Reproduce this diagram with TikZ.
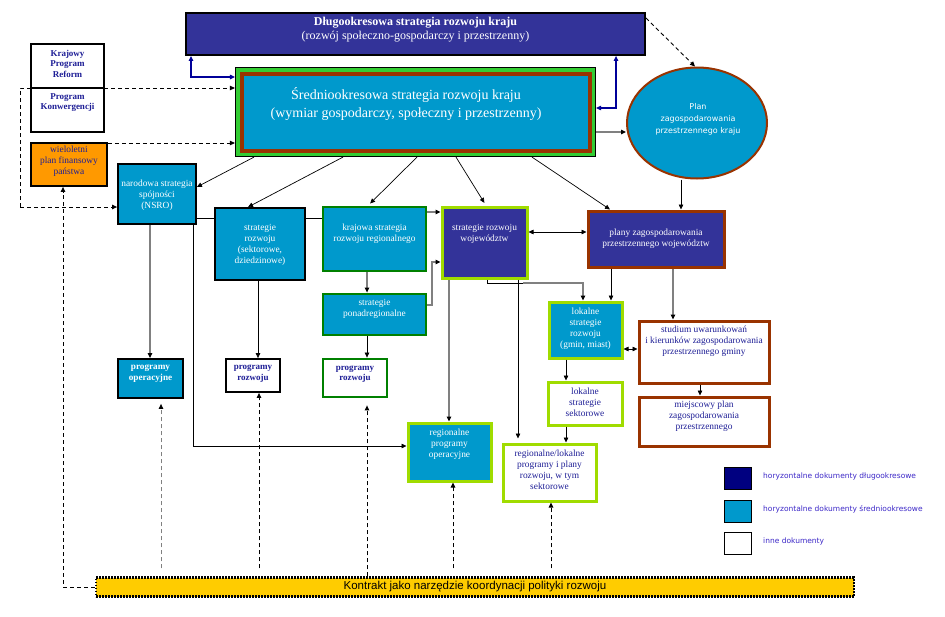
\documentclass[tikz,border=0pt]{standalone}
\usepackage{fontspec}
\setmainfont{Liberation Serif}
\newfontfamily\tahomaf{DejaVu Sans}
\newfontfamily\arialf{Liberation Sans}
\usetikzlibrary{arrows.meta,shapes.geometric}
\definecolor{dblue}{RGB}{51,51,153}
\definecolor{cyanb}{RGB}{0,153,204}
\definecolor{lgreen}{RGB}{51,204,51}
\definecolor{brownb}{RGB}{153,51,0}
\definecolor{dgreen}{RGB}{0,128,0}
\definecolor{limeb}{RGB}{160,220,0}
\definecolor{orangeb}{RGB}{255,153,0}
\definecolor{goldb}{RGB}{255,204,0}
\definecolor{navyt}{RGB}{30,30,150}
\definecolor{navyl}{RGB}{0,0,128}
\definecolor{legt}{RGB}{60,40,200}
\definecolor{linegray}{RGB}{128,128,128}
\definecolor{arrblue}{RGB}{0,0,153}
\newcommand{\mybox}[9]{%
  \node[#2,minimum width=#6pt,minimum height=#7pt] (#1) at (#4,#5) {};
  \node[#3] (#1-t) at (#4,#8) {#9};}
\begin{document}
\begin{tikzpicture}[x=1pt,y=-1pt,
  >={Triangle[length=5pt,width=4.5pt,color=black]},
  bxk/.style={draw=black,line width=1.8pt,inner sep=0pt},
  bxg/.style={draw=dgreen,line width=2.8pt,inner sep=0pt},
  bxl/.style={draw=limeb,line width=3pt,inner sep=0pt},
  bxb/.style={draw=brownb,line width=3pt,inner sep=0pt},
  tw/.style={text=white,align=center,inner sep=0pt,font=\fontsize{9.4}{11}\selectfont},
  twb/.style={tw,font=\bfseries\fontsize{9.2}{11}\selectfont},
  tn/.style={text=navyt,align=center,inner sep=0pt,font=\fontsize{9.4}{11}\selectfont},
  tnb/.style={tn,font=\bfseries\fontsize{9}{10.5}\selectfont},
  tw12/.style={text=white,align=center,inner sep=0pt,font=\fontsize{12}{14}\selectfont},
  tw14/.style={text=white,align=center,inner sep=0pt,font=\fontsize{14}{18}\selectfont},
  te/.style={text=white,align=center,inner sep=0pt,font=\tahomaf\fontsize{8}{12}\selectfont},
  tl/.style={text=legt,inner sep=0pt,font=\tahomaf\fontsize{7.5}{9}\selectfont},
  ln/.style={line width=0.7pt},
  gl/.style={draw=linegray,line width=1.1pt},
  ds/.style={dash pattern=on 4pt off 3pt,line width=0.9pt},
  bl/.style={draw=arrblue,line width=1.1pt,{Triangle[length=5pt,width=4.5pt]}-{Triangle[length=5pt,width=4.5pt]}},
  lg/.style={draw=black,line width=1pt,inner sep=0pt,minimum width=27pt,minimum height=22pt}]
\fill[white] (0,0) rectangle (945,616);
\useasboundingbox (0,0) rectangle (945,616);

% top long-term box
\mybox{D}{bxk,fill=dblue}{tw12}{415.5}{34}{459}{42}{30}{\textbf{Długookresowa strategia rozwoju kraju}\\(rozwój społeczno-gospodarczy i przestrzenny)}

% KPR / PK
\node[bxk,fill=white,minimum width=73pt,minimum height=88pt] (K) at (67.5,88) {};
\draw[line width=1.8pt] (K.west) -- (K.east);
\node[tnb] (K-t1) at (67.5,63.5) {Krajowy\\Program\\Reform};
\node[tnb] (K-t2) at (67.5,102.5) {Program\\Konwergencji};

\mybox{W}{bxk,fill=orangeb}{tn}{69}{164.5}{76}{43}{161}{wieloletni\\plan finansowy\\państwa}

% medium-term box
\node[draw=black,line width=1.2pt,fill=lgreen,minimum width=360pt,minimum height=89pt,inner sep=0pt] (S) at (415.5,112) {};
\fill[brownb] (239.5,71.5) rectangle (591.5,152.5);
\fill[cyanb] (243.5,75.5) rectangle (587.5,148.5);
\node[tw14] (S-t) at (406,104) {Średniookresowa strategia rozwoju kraju\\(wymiar gospodarczy, społeczny i przestrzenny)};

% ellipse
\node[ellipse,draw=brownb,line width=2pt,fill=cyanb,minimum width=140pt,minimum height=111pt,inner sep=0pt] (E) at (697,123) {};
\node[te] (E-t) at (698,119) {Plan\\zagospodarowania\\przestrzennego kraju};

\mybox{N}{bxk,fill=cyanb}{tw}{157}{194}{78}{60}{195.5}{narodowa strategia\\spójności\\(NSRO)}
\mybox{SR}{bxk,fill=cyanb}{tw}{260}{244}{90}{72}{244.5}{strategie\\rozwoju\\(sektorowe,\\dziedzinowe)}
\mybox{KR}{bxg,fill=cyanb}{tw}{374.5}{239}{103}{64}{234}{krajowa strategia\\rozwoju regionalnego}
\mybox{SW}{bxl,fill=dblue}{tw}{484.5}{242.5}{85}{71}{234}{strategie rozwoju\\województw}
\mybox{PZ}{bxb,fill=dblue}{tw}{656}{239}{136}{56}{238.5}{plany zagospodarowania\\przestrzennego województw}
\mybox{PR}{bxg,fill=cyanb}{tw}{374.5}{314.5}{103}{41}{308.5}{strategie\\ponadregionalne}
\mybox{PO}{bxk,fill=cyanb}{twb}{150.5}{378.5}{65}{39}{373.5}{programy\\operacyjne}
\mybox{PRb}{bxk,fill=white}{tnb}{253}{375.5}{54}{33}{373.5}{programy\\rozwoju}
\mybox{PRg}{bxg,fill=white}{tnb}{355}{378}{64}{38}{374}{programy\\rozwoju}
\mybox{LS}{bxl,fill=cyanb}{tw}{585.5}{330}{73}{56}{329}{lokalne\\strategie\\rozwoju\\(gmin, miast)}
\mybox{ST}{bxb,fill=white}{tn}{704}{352}{130}{62}{341.5}{studium uwarunkowań\\i kierunków zagospodarowania\\przestrzennego gminy}
\mybox{MP}{bxb,fill=white}{tn}{704}{421.5}{130}{49}{416.5}{miejscowy plan\\zagospodarowania\\przestrzennego}
\mybox{LSS}{bxl,fill=white}{tn}{585}{403.5}{74}{43}{402}{lokalne\\strategie\\sektorowe}
\mybox{RPO}{bxl,fill=cyanb}{tw}{449.5}{452}{83}{58}{444.5}{regionalne\\programy\\operacyjne}
\mybox{RL}{bxl,fill=white}{tn}{549.5}{472.5}{93}{57}{470}{regionalne/lokalne\\programy i plany\\rozwoju, w tym\\sektorowe}

% contract bar
\node[draw=black,line width=2.4pt,dash pattern=on 1.8pt off 1.2pt,fill=goldb,minimum width=758pt,minimum height=19pt,inner sep=0pt] (C) at (475,587) {};
\node[inner sep=0pt,font=\arialf\fontsize{11.5}{13}\selectfont] (C-t) at (475,587) {Kontrakt jako narzędzie koordynacji polityki rozwoju};

% legend
\node[lg,fill=navyl] (L1) at (738,478) {};
\node[lg,fill=cyanb] (L2) at (738,511) {};
\node[lg,fill=white] (L3) at (738,543) {};
\node[tl,anchor=west] (L1-t) at (763,476) {horyzontalne dokumenty długookresowe};
\node[tl,anchor=west] (L2-t) at (763,509) {horyzontalne dokumenty średniookresowe};
\node[tl,anchor=west] (L3-t) at (763,541) {inne dokumenty};

% ---- connectors ----
% blue links
\draw[bl] (D.south -| 191,0) |- (S.west |- 0,77);
\draw[bl] (S.east |- 0,108) -| (D.south -| 616,0);
% long-term -> ellipse
\draw[ds,->] (D.east |- 0,18) -- (E.north -| 695,0);
% medium -> ellipse
\draw[gl,->] (S.east |- 0,132) -- (E.west |- 0,132);
% left dashed
\draw[ds,->] (20,207) -- (20,88) -- (S.west |- 0,88);
\draw[ds,->] (20,207) -- (N.west |- 0,207);
\draw[ds,->] (W.east |- 0,143) -- (S.west |- 0,143);
\draw[ds,->] (C.west) -- (63,587) -- (W.south -| 63,0);
% contract dashed up
\draw[ds,draw=linegray,->,shorten <=8pt,shorten >=5pt] (C.north -| 161,0) -- (PO.south -| 161,0);
\draw[ds,->,shorten <=8pt] (C.north -| 259,0) -- (PRb.south -| 259,0);
\draw[ds,->,shorten >=7pt] (C.north -| 367,0) -- (PRg.south -| 367,0);
\draw[ds,->,shorten <=8pt] (C.north -| 453,0) -- (RPO.south -| 453,0);
\draw[ds,->,shorten <=8pt] (C.north -| 551,0) -- (RL.south -| 551,0);
% medium -> level 2
\draw[ln,->] (S.south -| 254,0) -- (N.east |- 0,187);
\draw[ln,->] (S.south -| 343,0) -- (SR.north -| 248,0);
\draw[ln,->,shorten >=3pt] (S.south -| 417,0) -- (KR.north -| 368,0);
\draw[ln,->,shorten >=3pt] (S.south -| 456,0) -- (SW.north -| 486,0);
\draw[ln,->] (S.south -| 532,0) -- (PZ.north -| 610,0);
\draw[ln,->] (E.south -| 681,0) -- (PZ.north -| 681,0);
% NSRO
\draw[gl,->] (N.south -| 150,0) -- (PO.north -| 150,0);
\draw[ln] (N.east |- 0,218) -- (SR.west |- 0,218);
\draw[ln] (SR.east |- 0,218) -- (KR.west |- 0,218);
\draw[ln,->] (N.south -| 193,0) -- (193,446) -- (RPO.west |- 0,446);
% sector / regional
\draw[ln,->] (SR.south -| 258,0) -- (PRb.north -| 258,0);
\draw[gl,->] (KR.south -| 367,0) -- (PR.north -| 367,0);
\draw[ln,->] (PR.south -| 367,0) -- (PRg.north -| 367,0);
\draw[gl,->] (KR.east |- 0,212) -- (SW.west |- 0,212);
\draw[gl,->] (PR.east |- 0,305) -- (432,305) -- (432,262) -- (SW.west |- 0,262);
% voivodeship
\draw[ln,<->] (SW.east |- 0,232) -- (PZ.west |- 0,232);
\draw[gl,->] (SW.south -| 449,0) -- (RPO.north -| 449,0);
\draw[ln] (SW.south -| 487,0) |- (523,283);
\draw[gl,->] (523,283) -| (LS.north -| 583,0);
\draw[ln,->,shorten >=4pt] (SW.south -| 518,0) -- (RL.north -| 518,0);
\draw[ln,->] (PZ.south -| 611,0) -- (LS.north -| 611,0);
\draw[gl,->] (PZ.south -| 673,0) -- (ST.north -| 673,0);
% local
\draw[ln,<->] (LS.east |- 0,349) -- (ST.west |- 0,349);
\draw[ln,->] (LS.south -| 566,0) -- (LSS.north -| 566,0);
\draw[ln,->] (LSS.south -| 566,0) -- (RL.north -| 566,0);
\draw[ln,->] (ST.south -| 700,0) -- (MP.north -| 700,0);
\end{tikzpicture}
\end{document}
